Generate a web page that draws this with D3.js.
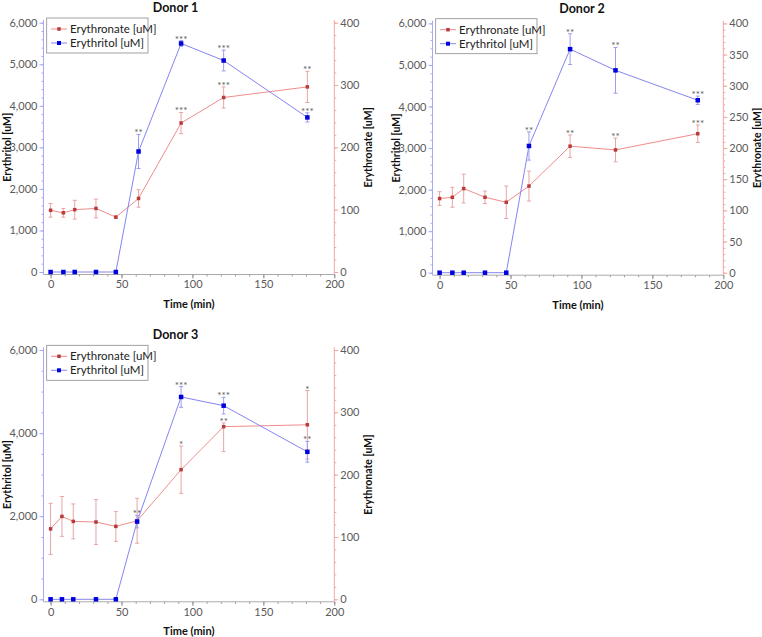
<!DOCTYPE html>
<html><head><meta charset="utf-8">
<script src="https://cdn.jsdelivr.net/npm/d3@7"></script>
<style>
body{margin:0;background:#fff}
svg{display:block}
text{font-family:Lato,"Noto Sans",sans-serif}
</style>
</head><body>
<svg id="c" width="762" height="637"></svg>
<script>
// ---- data ----
const panelTitles = ["Donor 1", "Donor 2", "Donor 3"];
const seriesNames = ["Erythronate [uM]", "Erythritol [uM]"];
const xTicks = [0, 50, 100, 150, 200];
const leftTicksA = [0, 1000, 2000, 3000, 4000, 5000, 6000];
const leftTicksB = [0, 2000, 4000, 6000];
const rightTicksA = [0, 100, 200, 300, 400];
const rightTicksB = [0, 50, 100, 150, 200, 250, 300, 350, 400];

const times1 = [0, 9, 17, 32, 46, 62, 92, 122, 181];
const erythritol1 = [0, 0, 0, 0, 0, 2900, 5500, 5090, 3720];
const erythritol1Err = [0, 0, 0, 0, 0, 410, 70, 250, 110];
const erythritol1Stars = ["", "", "", "", "", "**", "***", "***", "***"];
const erythronate1 = [99, 95, 100, 102, 88, 118, 239, 280, 297];
const erythronate1Err = [11, 7, 15, 15, 2, 14, 17, 17, 25];
const erythronate1Stars = ["", "", "", "", "", "", "***", "***", "**"];

const times2 = [0, 9, 17, 32, 47, 63, 92, 124, 182];
const erythritol2 = [0, 0, 0, 0, 0, 3050, 5380, 4870, 4150];
const erythritol2Err = [0, 0, 0, 0, 0, 340, 370, 550, 100];
const erythritol2Stars = ["", "", "", "", "", "**", "**", "**", "***"];
const erythronate2 = [119, 121, 135, 121, 113, 139, 203, 197, 223];
const erythronate2Err = [11, 16, 23, 10, 26, 24, 18, 19, 14];
const erythronate2Stars = ["", "", "", "", "", "", "**", "**", "***"];

const times3 = [0, 8, 16, 32, 46, 61, 92, 122, 181];
const erythritol3 = [0, 0, 0, 0, 0, 1870, 4870, 4660, 3550];
const erythritol3Err = [0, 0, 0, 0, 0, 150, 250, 200, 250];
const erythritol3Stars = ["", "", "", "", "", "**", "***", "***", "**"];
const erythronate3 = [113, 133, 125, 124, 117, 126, 208, 277, 280];
const erythronate3Err = [41, 32, 28, 36, 24, 36, 38, 40, 55];
const erythronate3ErrUp = [41, 32, 28, 36, 24, 36, 38, 6, 55];
const erythronate3Stars = ["", "", "", "", "", "", "*", "**", "*"];

// ---- styles ----
const BLUE_LINE = "#8585f2", BLUE_MARK = "#0000dd", BLUE_ERR = "#9c9cf0";
const RED_LINE = "#f08c8c", RED_MARK = "#b83a3a", RED_ERR = "#e8a4a4";
const LEFT_AXIS = "#a8a8f8", RIGHT_AXIS = "#f2a6a6", GRAY = "#5a5a5a";

const panels = [
  {title: panelTitles[0], t: times1, b: erythritol1, be: erythritol1Err, bs: erythritol1Stars,
   r: erythronate1, re: erythronate1Err, rs: erythronate1Stars,
   lt: leftTicksA, lm: 200, rt: rightTicksA, rm: 20, dx: 0, dy: 0, tx: 175.5},
  {title: panelTitles[1], t: times2, b: erythritol2, be: erythritol2Err, bs: erythritol2Stars,
   r: erythronate2, re: erythronate2Err, rs: erythronate2Stars,
   lt: leftTicksA, lm: 200, rt: rightTicksB, rm: 10, dx: 389, dy: 0.7, tx: 193},
  {title: panelTitles[2], t: times3, b: erythritol3, be: erythritol3Err, bs: erythritol3Stars,
   r: erythronate3, re: erythronate3Err, reUp: erythronate3ErrUp, rs: erythronate3Stars,
   lt: leftTicksB, lm: 500, rt: rightTicksA, rm: 20, dx: 0, dy: 327.3, tx: 175.5}
];

const svg = d3.select("#c");
const X0 = 43.5, X1 = 334.3, YB = 274.5, YT = 20;
const x = d3.scaleLinear().domain([-5, 200]).range([X0, X1]);
const yL = d3.scaleLinear().domain([0, 6000]).range([272, 22.7]);
const yR = d3.scaleLinear().domain([0, 400]).range([272, 22.7]);

function styleAxis(g, color) {
  g.select(".domain").remove();
  g.selectAll(".tick line").attr("stroke", color);
  g.selectAll(".tick text").attr("fill", GRAY).style("font-size", "11px");
}

panels.forEach(p => {
  const g = svg.append("g").attr("transform", `translate(${p.dx},${p.dy})`);

  // title
  g.append("text").attr("x", p.tx).attr("y", 12).attr("text-anchor", "middle")
    .style("font-size", "12.5px").style("font-weight", "bold").attr("fill", "#111").text(p.title);

  // minor ticks
  const bm = g.append("g").attr("transform", `translate(0,${YB})`)
    .call(d3.axisBottom(x).tickValues(d3.range(0, 201, 10)).tickSize(2).tickFormat(""));
  styleAxis(bm, "#999");
  const lmg = g.append("g").attr("transform", `translate(${X0},0)`)
    .call(d3.axisLeft(yL).tickValues(d3.range(0, 6001, p.lm)).tickSize(2).tickFormat(""));
  styleAxis(lmg, LEFT_AXIS);
  const rmg = g.append("g").attr("transform", `translate(${X1},0)`)
    .call(d3.axisRight(yR).tickValues(d3.range(0, 401, p.rm)).tickSize(2).tickFormat(""));
  styleAxis(rmg, RIGHT_AXIS);

  // major axes
  const bx = g.append("g").attr("transform", `translate(0,${YB})`)
    .call(d3.axisBottom(x).tickValues(xTicks).tickSize(4).tickPadding(2));
  styleAxis(bx, "#888");
  const ly = g.append("g").attr("transform", `translate(${X0},0)`)
    .call(d3.axisLeft(yL).tickValues(p.lt).tickSize(4).tickPadding(2).tickFormat(d3.format(",")));
  styleAxis(ly, LEFT_AXIS);
  const ry = g.append("g").attr("transform", `translate(${X1},0)`)
    .call(d3.axisRight(yR).tickValues(p.rt).tickSize(4).tickPadding(2));
  styleAxis(ry, RIGHT_AXIS);

  // axis lines
  g.append("line").attr("x1", X0).attr("x2", X1).attr("y1", YB).attr("y2", YB).attr("stroke", "#aaa");
  g.append("line").attr("x1", X0).attr("x2", X0).attr("y1", YT).attr("y2", YB).attr("stroke", LEFT_AXIS);
  g.append("line").attr("x1", X1).attr("x2", X1).attr("y1", YT).attr("y2", YB).attr("stroke", RIGHT_AXIS);

  // axis titles
  g.append("text").attr("x", (X0 + X1) / 2).attr("y", 308).attr("text-anchor", "middle")
    .style("font-size", "11px").style("font-weight", "bold").attr("fill", "#111").text("Time (min)");
  g.append("text").attr("transform", `translate(11,${(YT + YB) / 2}) rotate(-90)`).attr("text-anchor", "middle")
    .style("font-size", "10.5px").style("font-weight", "bold").attr("fill", "#111").text("Erythritol [uM]");
  g.append("text").attr("transform", `translate(371.5,${(YT + YB) / 2}) rotate(-90)`).attr("text-anchor", "middle")
    .style("font-size", "10.5px").style("font-weight", "bold").attr("fill", "#111").text("Erythronate [uM]");

  const plot = g.append("g");
  function series(vals, errs, errsUp, stars, ys, lineC, markC, errC, size) {
    const pts = p.t.map((t, i) => ({t, v: vals[i], lo: errs[i], hi: errsUp ? errsUp[i] : errs[i], s: stars[i]}));
    plot.append("path").datum(pts)
      .attr("d", d3.line().x(d => x(d.t)).y(d => ys(d.v)))
      .attr("fill", "none").attr("stroke", lineC).attr("stroke-width", 1);
    const eb = plot.append("g").selectAll("g").data(pts.filter(d => d.lo > 0)).join("g").attr("stroke", errC);
    eb.append("line").attr("x1", d => x(d.t)).attr("x2", d => x(d.t))
      .attr("y1", d => ys(d.v - d.lo)).attr("y2", d => ys(d.v + d.hi));
    eb.append("line").attr("x1", d => x(d.t) - 2).attr("x2", d => x(d.t) + 2)
      .attr("y1", d => ys(d.v - d.lo)).attr("y2", d => ys(d.v - d.lo));
    eb.append("line").attr("x1", d => x(d.t) - 2).attr("x2", d => x(d.t) + 2)
      .attr("y1", d => ys(d.v + d.hi)).attr("y2", d => ys(d.v + d.hi));
    plot.append("g").selectAll("rect").data(pts).join("rect")
      .attr("x", d => x(d.t) - size / 2).attr("y", d => ys(d.v) - size / 2)
      .attr("width", size).attr("height", size).attr("fill", markC);
    plot.append("g").selectAll("text").data(pts.filter(d => d.s)).join("text")
      .attr("x", d => x(d.t)).attr("y", d => ys(d.v + d.hi) + 2).attr("text-anchor", "middle")
      .style("font-size", "10px").attr("fill", GRAY).text(d => d.s);
  }
  series(p.r, p.re, p.reUp, p.rs, yR, RED_LINE, RED_MARK, RED_ERR, 3.5);
  series(p.b, p.be, null, p.bs, yL, BLUE_LINE, BLUE_MARK, BLUE_ERR, 4.5);

  // legend
  const lg = g.append("g");
  lg.append("rect").attr("x", 46.7).attr("y", 18).attr("width", 101.3).attr("height", 35)
    .attr("fill", "#fff").attr("stroke", "#8a8a8a").attr("stroke-width", 0.8);
  const items = [
    {name: seriesNames[0], lc: RED_LINE, mc: RED_MARK, s: 3.5},
    {name: seriesNames[1], lc: BLUE_LINE, mc: BLUE_MARK, s: 4}
  ];
  items.forEach((it, i) => {
    const yy = 29 + i * 14;
    lg.append("line").attr("x1", 51).attr("x2", 67).attr("y1", yy).attr("y2", yy).attr("stroke", it.lc);
    lg.append("rect").attr("x", 59 - it.s / 2).attr("y", yy - it.s / 2).attr("width", it.s).attr("height", it.s).attr("fill", it.mc);
    lg.append("text").attr("x", 70).attr("y", yy + 4).style("font-size", "11.5px").attr("fill", "#222").text(it.name);
  });
});
</script>
</body></html>
